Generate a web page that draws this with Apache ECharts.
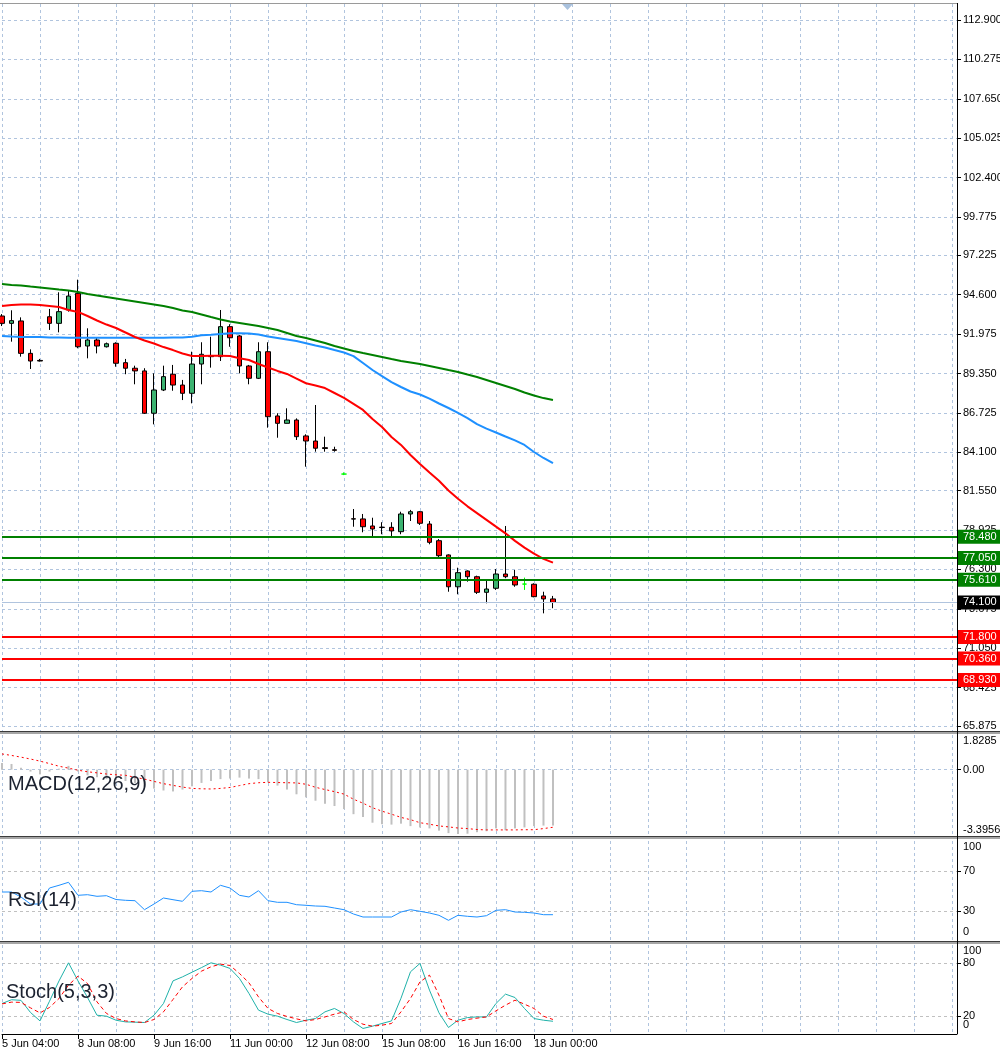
<!DOCTYPE html>
<html>
<head>
<meta charset="utf-8">
<title>H4 chart</title>
<script src="https://cdn.jsdelivr.net/npm/echarts@6/dist/echarts.min.js"></script>
<style>
  html, body { margin: 0; padding: 0; background: #fff; }
  #chart { width: 1000px; height: 1051px; }
</style>
</head>
<body>
<div id="chart"></div>
<script>
// candles, one per H4 bar (index = bar number from the left edge)
const openPrices = [93.18, 92.69, 92.85, 90.69, 90.22, 93.13, 92.69, 93.58, 94.69, 91.18,
  91.58, 91.13, 91.36, 90.07, 89.70, 89.52, 86.70, 88.25, 89.30, 88.58,
  88.03, 89.98, 90.47, 90.47, 92.47, 91.85, 89.85, 89.03, 90.80, 86.52,
  86.03, 86.25, 85.19, 84.85, 84.41, 84.27, 82.65, 79.67, 79.66, 79.19,
  79.11, 79.10, 78.81, 79.99, 80.14, 79.32, 78.21, 77.26, 75.14, 76.19,
  75.81, 74.77, 75.04, 75.99, 75.81, 75.32, 75.31, 74.53, 74.33];
const closePrices = [92.69, 92.87, 90.69, 90.18, 90.18, 92.69, 93.47, 94.51, 91.13, 91.58,
  91.18, 91.33, 90.03, 89.70, 89.52, 86.70, 88.25, 89.14, 88.58, 88.03,
  89.98, 90.63, 90.53, 92.47, 91.73, 89.85, 89.03, 90.80, 86.47, 86.03,
  86.25, 85.14, 84.85, 84.37, 84.35, 84.23, 82.65, 79.65, 79.14, 78.99,
  79.09, 78.86, 79.99, 80.14, 79.37, 78.10, 77.21, 75.14, 76.08, 75.81,
  74.77, 74.99, 75.99, 75.81, 75.26, 75.32, 74.48, 74.33, 74.10];
const lowPrices = [92.51, 91.47, 90.47, 89.65, 90.15, 92.25, 92.09, 93.47, 91.03, 90.36,
  90.69, 91.08, 89.80, 89.30, 88.63, 86.65, 85.96, 88.18, 88.20, 87.58,
  87.36, 88.63, 89.74, 90.18, 91.13, 89.36, 88.63, 88.98, 85.74, 85.07,
  86.02, 84.92, 83.14, 84.14, 84.14, 84.14, 82.58, 79.14, 78.77, 78.41,
  78.64, 78.41, 78.64, 79.52, 79.26, 77.97, 77.10, 74.81, 74.64, 75.48,
  74.66, 74.04, 74.93, 75.71, 75.14, 74.93, 74.44, 73.37, 73.71];
const highPrices = [93.31, 93.56, 93.09, 90.96, 90.32, 93.65, 94.76, 94.91, 95.60, 92.36,
  91.73, 91.41, 91.43, 90.32, 89.87, 89.70, 89.36, 89.87, 89.92, 88.92,
  90.80, 91.43, 91.80, 93.58, 92.63, 91.92, 89.92, 91.43, 91.43, 86.70,
  87.03, 86.36, 85.30, 87.25, 85.14, 84.47, 82.76, 80.32, 79.99, 79.74,
  79.44, 79.44, 80.14, 80.26, 80.19, 79.52, 78.32, 77.30, 76.41, 76.23,
  75.88, 75.59, 76.32, 79.19, 76.26, 75.75, 75.37, 74.81, 74.53];
const dojiBars = [36, 55];

// moving averages
const maFast = [93.85, 93.91, 93.95, 93.95, 93.91, 93.85, 93.78, 93.58, 93.45, 93.18,
  92.88, 92.61, 92.38, 92.08, 91.78, 91.55, 91.35, 91.11, 90.91, 90.68,
  90.51, 90.51, 90.53, 90.53, 90.51, 90.36, 90.25, 89.98, 89.75, 89.52,
  89.32, 89.01, 88.70, 88.55, 88.38, 88.05, 87.72, 87.32, 86.92, 86.32,
  85.78, 85.12, 84.59, 83.92, 83.32, 82.75, 82.20, 81.55, 81.00, 80.50,
  80.05, 79.60, 79.15, 78.70, 78.20, 77.75, 77.35, 77.00, 76.75];
const maMid = [91.85, 91.81, 91.78, 91.78, 91.78, 91.75, 91.75, 91.73, 91.73, 91.73,
  91.73, 91.73, 91.73, 91.73, 91.73, 91.73, 91.73, 91.73, 91.74, 91.75,
  91.80, 91.89, 91.93, 91.98, 92.03, 92.03, 92.01, 91.95, 91.81, 91.71,
  91.61, 91.51, 91.36, 91.21, 91.08, 90.91, 90.75, 90.51, 90.05, 89.58,
  89.18, 88.78, 88.45, 88.15, 87.95, 87.68, 87.35, 87.05, 86.72, 86.38,
  85.98, 85.68, 85.42, 85.15, 84.89, 84.59, 84.12, 83.72, 83.37];
const maSlow = [95.31, 95.24, 95.21, 95.14, 95.08, 95.01, 94.94, 94.88, 94.78, 94.65,
  94.55, 94.45, 94.35, 94.25, 94.15, 94.05, 93.95, 93.85, 93.71, 93.55,
  93.45, 93.28, 93.11, 92.95, 92.81, 92.71, 92.61, 92.51, 92.38, 92.25,
  92.05, 91.85, 91.71, 91.55, 91.38, 91.18, 91.01, 90.85, 90.71, 90.58,
  90.45, 90.31, 90.18, 90.08, 89.98, 89.85, 89.72, 89.58, 89.45, 89.28,
  89.12, 88.92, 88.72, 88.52, 88.32, 88.08, 87.88, 87.71, 87.58];

// horizontal levels
const resistanceLevels = [78.48, 77.05, 75.61];
const supportLevels = [71.80, 70.36, 68.93];
const lastPrice = 74.10;

const priceTicks = [112.9, 110.275, 107.65, 105.025, 102.4, 99.775, 97.225, 94.6, 91.975,
  89.35, 86.725, 84.1, 81.55, 78.925, 76.3, 73.675, 71.05, 68.425, 65.875];
const timeLabels = ['5 Jun 04:00', '8 Jun 08:00', '9 Jun 16:00', '11 Jun 00:00',
  '12 Jun 08:00', '15 Jun 08:00', '16 Jun 16:00', '18 Jun 00:00'];
const timeLabelBars = [0, 8, 16, 24, 32, 40, 48, 56];

// MACD(12,26,9)
const macdHist = [0.35, 0.30, 0.10, -0.10, -0.25, -0.10, 0.05, 0.20, -0.10, -0.30,
  -0.40, -0.50, -0.55, -0.60, -0.70, -0.90, -1.00, -1.10, -1.15, -1.05,
  -0.88, -0.70, -0.60, -0.50, -0.47, -0.42, -0.47, -0.50, -0.67, -0.84,
  -1.05, -1.30, -1.46, -1.64, -1.80, -1.92, -2.08, -2.35, -2.50, -2.80,
  -2.88, -2.90, -2.85, -2.98, -3.05, -3.10, -3.22, -3.35, -3.40, -3.38,
  -3.30, -3.25, -3.10, -3.20, -3.10, -3.05, -2.98, -2.95, -2.95];
const macdSignal = [0.83, 0.75, 0.66, 0.56, 0.45, 0.32, 0.18, 0.08, -0.03, -0.11,
  -0.17, -0.23, -0.27, -0.30, -0.40, -0.50, -0.62, -0.74, -0.83, -0.92,
  -0.99, -1.01, -1.02, -0.99, -0.94, -0.84, -0.74, -0.69, -0.67, -0.68,
  -0.69, -0.70, -0.77, -0.93, -1.05, -1.16, -1.29, -1.56, -1.77, -2.01,
  -2.19, -2.35, -2.52, -2.64, -2.80, -2.88, -2.97, -3.02, -3.08, -3.11,
  -3.16, -3.18, -3.18, -3.18, -3.18, -3.17, -3.17, -3.11, -3.04];
const macdRange = [-3.3956, 1.8285];
const macdRangeLabels = ['-3.3956', '1.8285'];

// RSI(14)
const rsiValues = [49, 49, 44, 37, 37, 53, 55.7, 58.7, 45.7, 46.3,
  44.7, 45.3, 41.5, 40.7, 40.3, 31.3, 37, 43, 41.3, 39.7,
  49.7, 50.3, 49, 55.7, 53, 45.7, 44, 50.3, 40.3, 38.7,
  38.7, 36.3, 35.7, 35, 34.7, 33, 31.3, 27, 24, 24,
  24, 24, 29, 31.3, 29.7, 28, 25.7, 20.7, 25.7, 24.7,
  24, 25.3, 30.7, 31.3, 29, 28.7, 28, 26.3, 26.3];
const rsiLevels = [30, 70];

// Stochastic(5,3,3)
const stochMain = [34.3, 38.5, 37.8, 24.2, 14.7, 36.8, 59.6, 80, 59.7, 41.1,
  21.1, 20, 15.5, 13.6, 13.3, 12.9, 21.1, 34.3, 59.7, 64.2,
  69.4, 74.6, 80, 77.4, 73.7, 62.4, 45.5, 26.8, 22.3, 20,
  16.3, 12.9, 15.5, 17.4, 24.9, 28.7, 23, 13.6, 6.2, 8.8,
  11.8, 14.7, 40.2, 69.9, 79.3, 49.3, 23.8, 7.3, 15.5, 18.5,
  19.2, 19.2, 34.3, 44.8, 41, 28.7, 17.4, 15.5, 14.3];
const stochSignal = [33.8, 35.8, 35.5, 29.4, 23.7, 29.8, 39.9, 54.9, 65, 56.8,
  36.1, 23.1, 17.4, 14.7, 13.6, 12.9, 16.3, 24.9, 38.8, 53,
  62.4, 70.6, 75.5, 78.5, 77, 68, 57.5, 41.7, 28.7, 23.1,
  19.7, 17, 14.7, 16.3, 19.2, 22.3, 24.9, 16.3, 11, 8.8,
  9.9, 11.8, 24.9, 39.9, 58.6, 66.1, 43.6, 17.4, 13.6, 16.3,
  17.8, 19.2, 26, 32.4, 38, 33.5, 28.7, 20, 16.3];
const stochLevels = [20, 80];

const FONT = '"Liberation Sans", Arial, sans-serif';
const GRID_LINE = '#b0c4de';
const LEVEL_GRAY = '#c0c0c0';
const LIME = '#00ff00';
const X_MAX = 100.53; // visible bar slots incl. empty space on the right
const PRICE_MIN = 65.531;
const PRICE_MAX = 113.966;
const AXIS_X = 957;

const chart = echarts.init(document.getElementById('chart'));

const pairs = (arr) => arr.map((v, i) => [i, v]);

const candleData = openPrices.map((o, i) => {
  const item = { value: [i, o, closePrices[i], lowPrices[i], highPrices[i]] };
  if (dojiBars.includes(i)) {
    item.itemStyle = { color: LIME, color0: LIME, borderColor: LIME, borderColor0: LIME, borderColorDoji: LIME };
  }
  return item;
});

function levelLine(value, color, width, boxColor) {
  return {
    yAxis: value,
    lineStyle: { color: color, width: width, type: 'solid' },
    label: { backgroundColor: boxColor },
  };
}

const levelData = []
  .concat(resistanceLevels.map((v) => levelLine(v, '#008000', 2, '#008000')))
  .concat(supportLevels.map((v) => levelLine(v, '#ff0000', 2, '#ff0000')))
  .concat([levelLine(lastPrice, GRID_LINE, 1, '#000')]);

function gridAt(top, height) {
  return { show: false, left: 2, right: 1000 - AXIS_X, top: top, height: height, outerBoundsMode: 'none', containLabel: false };
}

function baseXAxis(gridIndex) {
  return {
    type: 'value', gridIndex: gridIndex, position: 'bottom', min: 0, max: X_MAX, interval: 4,
    axisLine: { show: false, onZero: false }, axisTick: { show: false }, axisLabel: { show: false },
    splitLine: { show: true, lineStyle: { color: GRID_LINE, type: [3, 3], width: 1 } },
  };
}

function textStyle(extra) {
  return Object.assign({ color: '#000', fontSize: 11, fontFamily: FONT }, extra || {});
}

// axis with level ticks, labels and split lines
function levelYAxis(gridIndex, min, max, levels, textOf, splitColor) {
  return {
    type: 'value', gridIndex: gridIndex, position: 'right', min: min, max: max,
    axisLine: { show: false, onZero: false },
    axisTick: { show: true, customValues: levels, length: 4, lineStyle: { color: '#000' } },
    axisLabel: Object.assign(textStyle(), { customValues: levels, margin: 6, formatter: textOf }),
    splitLine: { show: true, lineStyle: { color: splitColor, type: [3, 3], width: 1 } },
  };
}

// second axis on a panel carrying only the top / bottom value labels
function rangeYAxis(gridIndex, min, max, textOf, bottomPad) {
  return {
    type: 'value', gridIndex: gridIndex, position: 'right', min: min, max: max,
    axisLine: { show: false, onZero: false }, axisTick: { show: false }, splitLine: { show: false },
    axisLabel: Object.assign(textStyle(), {
      customValues: [min, max], margin: 6, showMinLabel: true, showMaxLabel: true,
      formatter: (v) => (v === max ? '{top|' + textOf(v) + '}' : '{bot|' + textOf(v) + '}'),
      rich: {
        top: textStyle({ padding: [12, 0, 0, 0] }),
        bot: textStyle({ padding: [0, 0, bottomPad, 0] }),
      },
    }),
  };
}

function lineSeries(name, data, axisIndex, color, type, width, z) {
  return {
    name: name, type: 'line', xAxisIndex: axisIndex, yAxisIndex: axisIndex,
    data: pairs(data), showSymbol: false, symbol: 'none', silent: true, z: z || 4,
    lineStyle: { color: color, width: width || 1, type: type || 'solid' },
  };
}

function separator(y) {
  return {
    type: 'group', silent: true, z: 100,
    children: [
      { type: 'rect', shape: { x: 0, y: y, width: 1000, height: 1 }, style: { fill: '#3c3c3c' } },
      { type: 'rect', shape: { x: 0, y: y + 1, width: 1000, height: 2 }, style: { fill: '#a6a6a6' } },
    ],
  };
}

function panelTitle(text, x, y) {
  return {
    type: 'text', x: x, y: y, silent: true, z: 101,
    style: { text: text, fill: '#1c2230', fontSize: 20, fontFamily: FONT, verticalAlign: 'middle' },
  };
}

const option = {
  animation: false,
  backgroundColor: '#fff',
  grid: [gridAt(4, 727), gridAt(735, 99), gridAt(841, 100), gridAt(945, 89)],
  xAxis: [
    baseXAxis(0), baseXAxis(1), baseXAxis(2), baseXAxis(3),
    {
      type: 'value', gridIndex: 3, position: 'bottom', min: 0, max: X_MAX,
      axisLine: { show: true, onZero: false, lineStyle: { color: '#000', width: 1 } },
      axisTick: { show: true, customValues: timeLabelBars, length: 5, lineStyle: { color: '#000' } },
      axisLabel: Object.assign(textStyle(), {
        customValues: timeLabelBars, margin: 4, align: 'left',
        formatter: (v) => timeLabels[timeLabelBars.indexOf(Math.round(v))] || '',
      }),
      splitLine: { show: false },
    },
  ],
  yAxis: [
    levelYAxis(0, PRICE_MIN, PRICE_MAX, priceTicks, (v) => v.toFixed(3), GRID_LINE),
    levelYAxis(1, macdRange[0], macdRange[1], [0], () => '0.00', GRID_LINE),
    levelYAxis(2, 0, 100, rsiLevels, (v) => String(v), LEVEL_GRAY),
    levelYAxis(3, 0, 100, stochLevels, (v) => String(v), LEVEL_GRAY),
    rangeYAxis(1, macdRange[0], macdRange[1], (v) => macdRangeLabels[macdRange.indexOf(v)], 8),
    rangeYAxis(2, 0, 100, (v) => String(v), 18),
    rangeYAxis(3, 0, 100, (v) => String(v), 18),
  ],
  series: [
    {
      name: 'Price', type: 'candlestick', xAxisIndex: 0, yAxisIndex: 0, z: 3,
      data: candleData, barWidth: 5, silent: true,
      itemStyle: {
        color: '#3cb371', color0: '#ff0000',
        borderColor: '#000', borderColor0: '#000', borderColorDoji: '#000', borderWidth: 1,
      },
      markLine: {
        silent: true, symbol: ['none', 'none'], animation: false,
        label: {
          show: true, position: 'end', distance: 1,
          formatter: (p) => Number(p.value).toFixed(3),
          color: '#fff', fontSize: 11, fontFamily: FONT, padding: [2, 4, 1, 5],
        },
        data: levelData,
      },
    },
    lineSeries('MA slow', maSlow, 0, '#008000', 'solid', 2),
    lineSeries('MA mid', maMid, 0, '#1e90ff', 'solid', 2),
    lineSeries('MA fast', maFast, 0, '#ff0000', 'solid', 2),
    {
      name: 'MACD', type: 'bar', xAxisIndex: 1, yAxisIndex: 1, silent: true,
      data: pairs(macdHist), barWidth: 2, itemStyle: { color: '#c0c0c0' },
    },
    lineSeries('Signal', macdSignal, 1, '#ff0000', [2, 3], 1),
    lineSeries('RSI', rsiValues, 2, '#1e90ff', 'solid', 1),
    lineSeries('%K', stochMain, 3, '#20b2aa', 'solid', 1),
    lineSeries('%D', stochSignal, 3, '#ff0000', [4, 3], 1),
  ],
  graphic: [
    { type: 'rect', silent: true, z: 100, shape: { x: 0, y: 3, width: AXIS_X, height: 1 }, style: { fill: '#9a9a9a' } },
    { type: 'rect', silent: true, z: 99, shape: { x: AXIS_X, y: 3, width: 1, height: 1031 }, style: { fill: '#000' } },
    { type: 'polygon', silent: true, z: 100, shape: { points: [[562, 4], [573, 4], [567.5, 10]] }, style: { fill: '#a9c1dd' } },
    separator(731), separator(836), separator(941),
    panelTitle('MACD(12,26,9)', 8, 784),
    panelTitle('RSI(14)', 8, 900),
    panelTitle('Stoch(5,3,3)', 6, 992),
  ],
};

chart.setOption(option);
</script>
</body>
</html>
